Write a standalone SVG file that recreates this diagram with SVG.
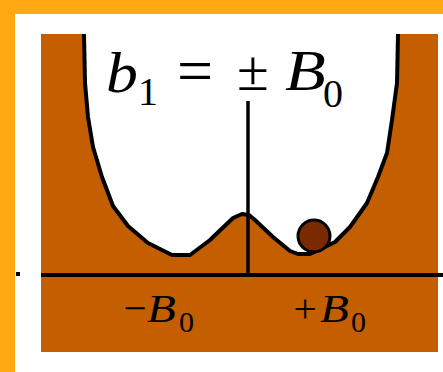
<svg xmlns="http://www.w3.org/2000/svg" width="443" height="372" viewBox="0 0 443 372">
<style>
.ln{stroke:#000;fill:none}
</style>
<rect x="0" y="0" width="443" height="372" fill="#FFA812"/>
<rect x="15" y="14" width="428" height="358" fill="#FFFFFF"/>
<g id="potential">
<rect x="41" y="34" width="397" height="318" fill="#C35F00"/>
<path d="M84,34 L85,83 L88,117 L93,147 L102,177 L113,206 L128,226 L148,243 L172,255 L190,255 L210,240 L233,218 L242,214 L249,215 L255,220 L273,237 L290,251 L298,254 L310,254 L335,242 L350,227 L367,203 L378,177 L387,153 L392,120 L397,83 L398,34 Z" fill="#FFFFFF"/>
<path class="ln" d="M84,34 L85,83 L88,117 L93,147 L102,177 L113,206 L128,226 L148,243 L172,255 L190,255 L210,240 L233,218 L242,214 L249,215 L255,220 L273,237 L290,251 L298,254 L310,254 L335,242 L350,227 L367,203 L378,177 L387,153 L392,120 L397,83 L398,34" stroke-width="4" stroke-linejoin="round"/>
</g>
<g id="ball">
<circle cx="314" cy="236" r="16" fill="#7A2A00" stroke="#000" stroke-width="3"/>
</g>
<g id="axes">
<line class="ln" x1="248" y1="101" x2="248" y2="275" stroke-width="3.5"/>
<line class="ln" x1="41" y1="275" x2="443" y2="275" stroke-width="4"/>
<rect x="16" y="272" width="4" height="4" fill="#000"/>
</g>
<g id="title">
<text transform="translate(106,92) scale(1.1,1)" font-family="Liberation Serif" font-size="58" font-style="italic">b</text>
<text x="138" y="105" font-family="Liberation Serif" font-size="40">1</text>
<text x="195" y="92" font-family="Liberation Serif" font-size="64" text-anchor="middle">=</text>
<text x="253" y="90" font-family="Liberation Serif" font-size="58" text-anchor="middle">±</text>
<text transform="translate(285,90) scale(1.15,1)" font-family="Liberation Serif" font-size="58" font-style="italic">B</text>
<text x="323" y="107" font-family="Liberation Serif" font-size="40">0</text>
</g>
<g id="label-minus">
<text x="135" y="322" font-family="Liberation Serif" font-size="41" text-anchor="middle">−</text>
<text transform="translate(147,322) scale(1.15,1)" font-family="Liberation Serif" font-size="41" font-style="italic">B</text>
<text x="179" y="332" font-family="Liberation Serif" font-size="30">0</text>
</g>
<g id="label-plus">
<text x="305" y="322" font-family="Liberation Serif" font-size="41" text-anchor="middle">+</text>
<text transform="translate(320,322) scale(1.15,1)" font-family="Liberation Serif" font-size="41" font-style="italic">B</text>
<text x="351" y="332" font-family="Liberation Serif" font-size="30">0</text>
</g>
</svg>
